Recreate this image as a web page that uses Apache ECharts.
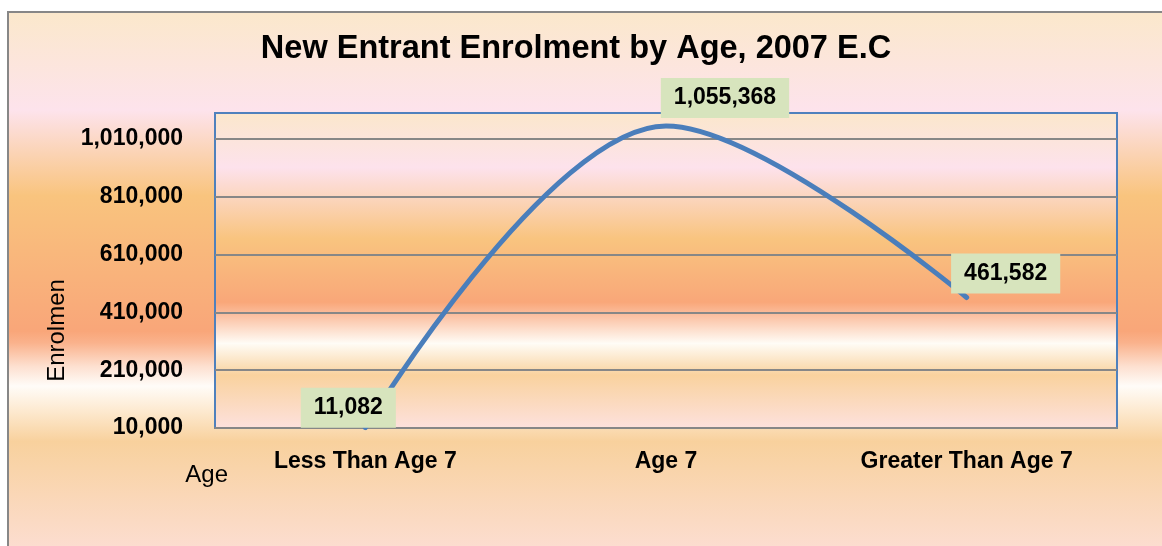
<!DOCTYPE html>
<html>
<head>
<meta charset="utf-8">
<script src="https://cdn.jsdelivr.net/npm/echarts@6/dist/echarts.min.js"></script>
<style>
  html, body { margin: 0; padding: 0; background: #ffffff; }
  #chart { width: 1162px; height: 546px; }
</style>
</head>
<body>
<div id="chart"></div>
<script>
const titleText = "New Entrant Enrolment by Age, 2007 E.C";
const categories = ["Less Than Age 7", "Age 7", "Greater Than Age 7"];
const enrolment = [11082, 1055368, 461582];
// label boxes sit beside each point, as in the source sheet
const labelOffsets = [[-17, -20], [59, -28], [39, -24]];

const font = "Liberation Sans, Arial, sans-serif";

const pageFill = new echarts.graphic.LinearGradient(0, 0, 0, 1, [
  { offset: 0, color: "#fbe8cb" },
  { offset: 0.172, color: "#fde3ec" },
  { offset: 0.32, color: "#f9c47e" },
  { offset: 0.555, color: "#f9a679" },
  { offset: 0.575, color: "#fab28c" },
  { offset: 0.616, color: "#fde0d0" },
  { offset: 0.65, color: "#fffcf8" },
  { offset: 0.694, color: "#fde9cf" },
  { offset: 0.746, color: "#f8d19d" },
  { offset: 0.93, color: "#fcddd0" },
  { offset: 1, color: "#fde2e0" },
]);

const plotFill = new echarts.graphic.LinearGradient(0, 0, 0, 1, [
  { offset: 0, color: "#fbe7cb" },
  { offset: 0.175, color: "#fde2ec" },
  { offset: 0.4, color: "#f9c47f" },
  { offset: 0.6, color: "#f9a779" },
  { offset: 0.64, color: "#fbbfa0" },
  { offset: 0.73, color: "#fffcf6" },
  { offset: 0.83, color: "#f9d29e" },
  { offset: 1, color: "#fde1de" },
]);

const chart = echarts.init(document.getElementById("chart"));

chart.setOption({
  animation: false,
  backgroundColor: "#ffffff",
  graphic: [
    {
      type: "rect",
      z: -10,
      silent: true,
      shape: { x: 8, y: 12, width: 1170, height: 575 },
      style: { fill: pageFill, stroke: "#878787", lineWidth: 2 },
    },
  ],
  title: {
    text: titleText,
    left: 571,
    top: 28,
    textAlign: "center",
    textStyle: { fontFamily: font, fontSize: 32.5, fontWeight: "bold", color: "#000000" },
  },
  grid: {
    left: 215,
    right: 45,
    top: 113,
    bottom: 118,
    show: true,
    backgroundColor: plotFill,
    borderColor: "#4f81bd",
    borderWidth: 2,
  },
  xAxis: {
    type: "category",
    z: 3,
    data: categories,
    name: "Age",
    nameLocation: "start",
    nameGap: -13,
    nameTextStyle: {
      fontFamily: font,
      fontSize: 24,
      color: "#000000",
      verticalAlign: "top",
      padding: [35, 0, 0, 0],
    },
    axisLine: { lineStyle: { color: "#878787", width: 2 } },
    axisTick: { length: 8, lineStyle: { color: "#878787", width: 2 } },
    axisLabel: {
      margin: 22,
      fontFamily: font,
      fontSize: 23,
      fontWeight: "bold",
      color: "#000000",
    },
  },
  yAxis: {
    type: "value",
    min: 10000,
    max: 1100000,
    interval: 200000,
    name: "Enrolmen",
    nameLocation: "middle",
    nameGap: 139,
    nameTextStyle: {
      fontFamily: font,
      fontSize: 24,
      color: "#000000",
      padding: [0, 120, 0, 0],
    },
    axisLine: { show: false },
    axisTick: { show: false },
    splitLine: {
      showMinLine: false,
      showMaxLine: false,
      lineStyle: { color: "#878787", width: 2 },
    },
    axisLabel: {
      margin: 32,
      showMaxLabel: false,
      fontFamily: font,
      fontSize: 23,
      fontWeight: "bold",
      color: "#000000",
      formatter: (v) => v.toLocaleString("en-US"),
    },
  },
  series: [
    {
      type: "line",
      z: 4,
      smooth: 0.35,
      symbol: "circle",
      symbolSize: 1,
      lineStyle: { color: "#4a7ebb", width: 5, cap: "round" },
      itemStyle: { color: "#4a7ebb" },
      data: enrolment.map((v, i) => ({
        value: v,
        label: { offset: labelOffsets[i] },
      })),
      label: {
        show: true,
        position: "inside",
        fontFamily: font,
        fontSize: 23,
        fontWeight: "bold",
        color: "#000000",
        backgroundColor: "#d7e4bd",
        padding: [9, 13, 8, 13],
        formatter: (p) => p.value.toLocaleString("en-US"),
      },
    },
  ],
});
</script>
</body>
</html>
